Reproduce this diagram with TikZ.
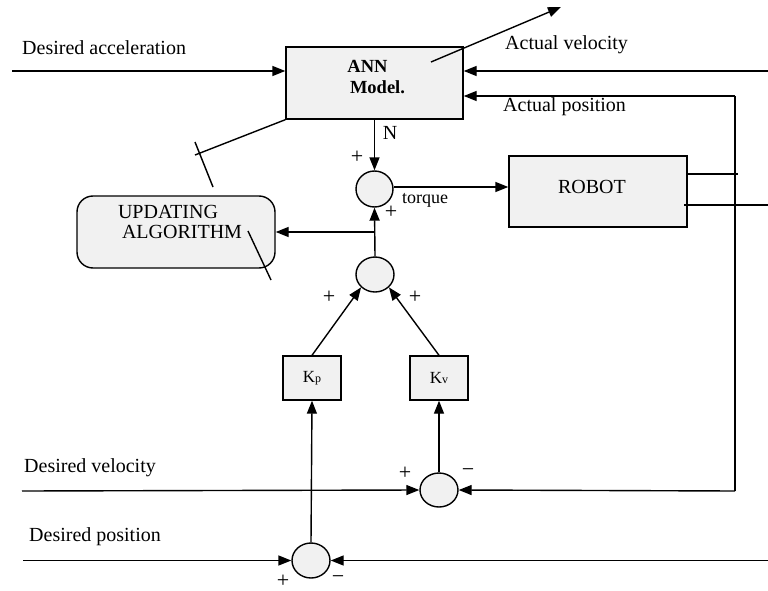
\documentclass[tikz,border=0pt]{standalone}
\usepackage{fontspec}
\setmainfont{Liberation Serif}
\usetikzlibrary{arrows.meta,shapes.geometric}
\definecolor{boxfill}{HTML}{F1F1F1}
\tikzset{
  ln/.style={line width=1.4pt},
  arr/.style={ln,-{Triangle[length=13pt,width=10pt]}},
  blk/.style={draw,line width=1.4pt,fill=boxfill,inner sep=0pt},
  sumj/.style={draw,line width=1.4pt,fill=boxfill,ellipse,inner sep=0pt},
  lbl/.style={inner sep=0pt,font=\fontsize{20}{22}\selectfont},
  sgn/.style={inner sep=0pt,font=\fontsize{22}{22}\selectfont},
}
\begin{document}
\begin{tikzpicture}[x=1pt,y=-1pt]
\useasboundingbox (0,0) rectangle (768,591);
% blocks
\node[blk,minimum width=177pt,minimum height=72pt] (ann) at (374.5,83) {};
\node[inner sep=0pt,font=\fontsize{18.5}{20}\selectfont\bfseries] (annt1) at (367.5,66) {ANN};
\node[inner sep=0pt,font=\fontsize{18.5}{20}\selectfont\bfseries] (annt2) at (377.5,87) {Model.};
\node[blk,minimum width=178pt,minimum height=71pt] (robot) at (598,191.5) {};
\node[lbl] (robott) at (592,187) {ROBOT};
\node[blk,rounded corners=16pt,minimum width=198pt,minimum height=72pt] (upd) at (176,232) {};
\node[lbl] (updt1) at (168,212) {UPDATING};
\node[lbl] (updt2) at (182,232) {ALGORITHM};
\node[blk,minimum width=58pt,minimum height=44pt] (kp) at (312,378)
  {{\fontsize{17}{17}\selectfont K}{\fontsize{12}{12}\selectfont p}};
\node[blk,minimum width=58pt,minimum height=44pt] (kv) at (439,378)
  {{\fontsize{17}{17}\selectfont K}{\fontsize{12}{12}\selectfont v}};
% summing junctions
\node[sumj,minimum width=37pt,minimum height=36pt] (s1) at (374.5,189) {};
\node[sumj,minimum width=38pt,minimum height=35pt] (s2) at (375,274.5) {};
\node[sumj,minimum width=38pt,minimum height=34pt] (s3) at (439,490) {};
\node[sumj,minimum width=38pt,minimum height=35pt] (s4) at (311,560.5) {};
% free ends
\coordinate (da) at (12,71);
\coordinate (av) at (768,71);
\coordinate (apc) at (735,96);
\coordinate (apd) at (735,491);
\coordinate (dv) at (22,491);
\coordinate (dp) at (23,560.5);
\coordinate (dpr) at (768,560.5);
\coordinate (r1a) at (687,174);
\coordinate (r1b) at (738,174);
\coordinate (r2a) at (684,205);
\coordinate (r2b) at (768,205);
\coordinate (br) at (375,232);
\coordinate (outa) at (431,62);
\coordinate (outb) at (561,7);
\coordinate (wl) at (195,155);
\coordinate (t1a) at (195,142);
\coordinate (t1b) at (213,187);
\coordinate (t2a) at (248,231);
\coordinate (t2b) at (271,280);
% connectors
\draw[arr] (da) -- (da -| ann.west);
\draw[arr] (av) -- (av -| ann.east);
\draw[arr] (apc) -- (apc -| ann.east);
\draw[ln] (apc) -- (apd);
\draw[arr] (apd) -- (s3.east);
\draw[arr] (dv) -- (s3.west);
\draw[arr] (dp) -- (s4.west);
\draw[arr] (dpr) -- (s4.east);
\draw[arr] (s4.north) -- (kp.south);
\draw[arr] (s3.north) -- (kv.south);
\draw[arr] (kp.north) -- (s2.south west);
\draw[arr] (kv.north) -- (s2.south east);
\draw[arr] (s2.north) -- (s1.south);
\draw[arr] (br) -- (upd.east |- br);
\draw[arr] (ann.south) -- (s1.north);
\draw[arr] (s1.east |- 0,187) -- (robot.west |- 0,187);
\draw[ln] (r1a) -- (r1b);
\draw[ln] (r2a) -- (r2b);
\draw[arr] (outa) -- (outb);
\draw[ln] (ann.south west) -- (wl);
\draw[ln] (t1a) -- (t1b);
\draw[ln] (t2a) -- (t2b);
% labels
\node[lbl,anchor=west] (ldacc) at (22,48) {Desired acceleration};
\node[lbl,anchor=west] (lav) at (505,45) {Actual velocity};
\node[lbl,anchor=west] (lap) at (503,107) {Actual position};
\node[lbl,anchor=west] (ldv) at (24,468) {Desired velocity};
\node[lbl,anchor=west] (ldp) at (29,537) {Desired position};
\node[lbl] (ln) at (390,133) {N};
\node[inner sep=0pt,font=\fontsize{18}{20}\selectfont] (ltq) at (425,200) {torque};
\node[sgn] (p1) at (357,157) {+};
\node[sgn] (p2) at (391,212) {+};
\node[sgn] (p3) at (329,297) {+};
\node[sgn] (p4) at (415,297) {+};
\node[sgn] (p5) at (405,473) {+};
\node[sgn] (m5) at (468,473) {−};
\node[sgn] (p6) at (283,581) {+};
\node[sgn] (m6) at (338,580) {−};
\end{tikzpicture}
\end{document}
